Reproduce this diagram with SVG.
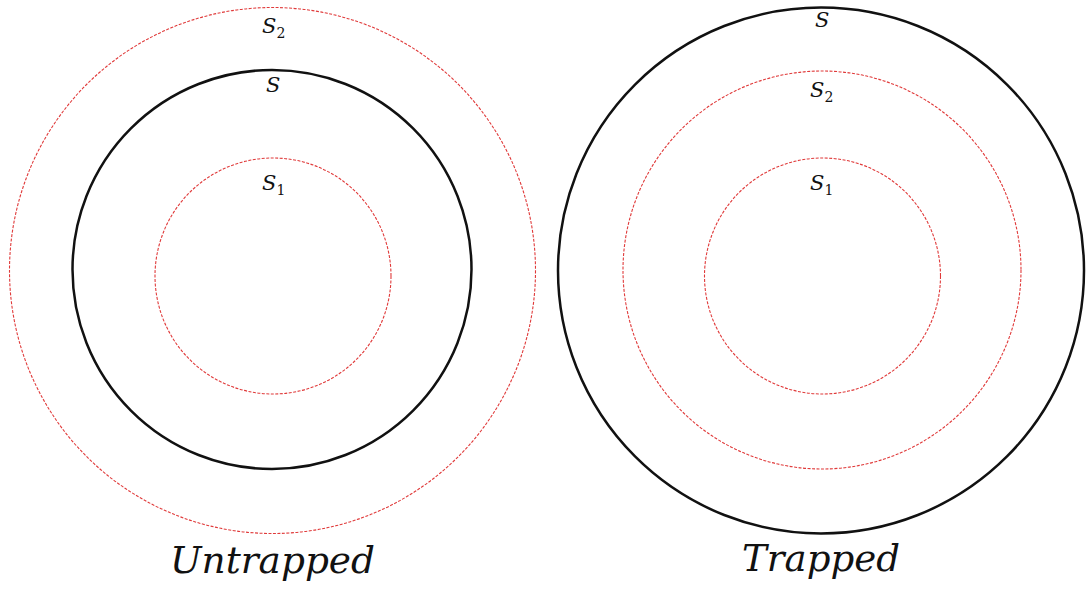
<svg xmlns="http://www.w3.org/2000/svg" width="1087" height="592" viewBox="0 0 1087 592">
<style>
.solid{fill:none;stroke:#111;stroke-width:2.5}
.dash{fill:none;stroke:#e03a3a;stroke-width:1.1;stroke-dasharray:3 1.5}
.lbl{font-family:"DejaVu Serif","Liberation Serif",serif;font-style:italic;font-size:21px;fill:#111}
.sub{font-size:14px;font-style:normal}
.title{font-family:"DejaVu Serif","Liberation Serif",serif;font-style:italic;font-size:37px;fill:#111}
</style>
<rect width="1087" height="592" fill="#fff"/>
<g id="untrapped">
<g id="left-S2"><circle class="dash" cx="272.5" cy="270.5" r="263"/><text class="lbl" x="262" y="33">S<tspan class="sub" dy="5">2</tspan></text></g>
<g id="left-S"><circle class="solid" cx="272" cy="269.5" r="199.5"/><text class="lbl" x="266" y="92">S</text></g>
<g id="left-S1"><circle class="dash" cx="273" cy="276" r="118"/><text class="lbl" x="262" y="190">S<tspan class="sub" dy="5">1</tspan></text></g>
<text class="title" x="170" y="573" textLength="205" lengthAdjust="spacingAndGlyphs">Untrapped</text>
</g>
<g id="trapped">
<g id="right-S"><circle class="solid" cx="821" cy="270.5" r="263"/><text class="lbl" x="815" y="27">S</text></g>
<g id="right-S2"><circle class="dash" cx="822" cy="270" r="199"/><text class="lbl" x="810" y="97">S<tspan class="sub" dy="5">2</tspan></text></g>
<g id="right-S1"><circle class="dash" cx="822.5" cy="276" r="118"/><text class="lbl" x="810" y="190">S<tspan class="sub" dy="5">1</tspan></text></g>
<text class="title" x="742" y="571" textLength="158" lengthAdjust="spacingAndGlyphs">Trapped</text>
</g>
<g id="connectors"/>
</svg>
